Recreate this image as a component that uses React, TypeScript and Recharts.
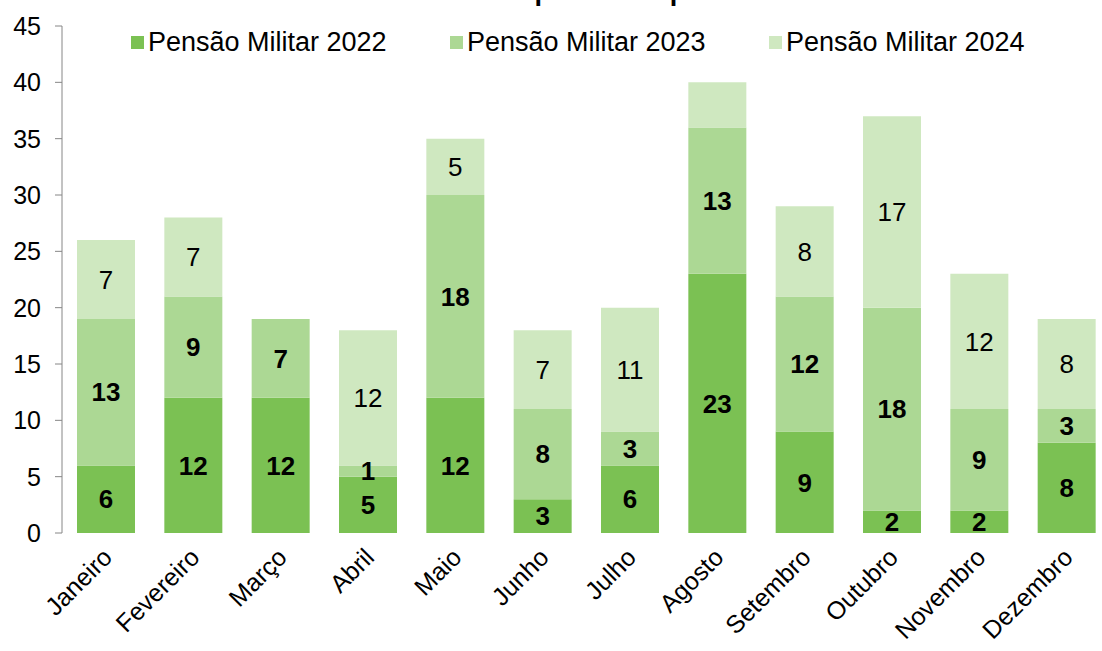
import { Bar, BarChart, LabelList, XAxis, YAxis } from "recharts";

const MONTHS = [
  "Janeiro",
  "Fevereiro",
  "Março",
  "Abril",
  "Maio",
  "Junho",
  "Julho",
  "Agosto",
  "Setembro",
  "Outubro",
  "Novembro",
  "Dezembro",
];
const PM_2022 = [6, 12, 12, 5, 12, 3, 6, 23, 9, 2, 2, 8];
const PM_2023 = [13, 9, 7, 1, 18, 8, 3, 13, 12, 18, 9, 3];
const PM_2024 = [7, 7, 0, 12, 5, 7, 11, 4, 8, 17, 12, 8];
// the reference leaves this segment unlabelled
const NO_LABEL_2024 = ["Agosto"];

const Y_TICKS = [0, 5, 10, 15, 20, 25, 30, 35, 40, 45];
const BOUNDARY_TICKS = [0, 1, 2, 3, 4, 5, 6, 7, 8, 9, 10, 11, 12];

const SERIES = [
  { key: "pm2022", label: "lbl2022", name: "Pensão Militar 2022", color: "#7bc153", bold: true },
  { key: "pm2023", label: "lbl2023", name: "Pensão Militar 2023", color: "#acd894", bold: true },
  { key: "pm2024", label: "lbl2024", name: "Pensão Militar 2024", color: "#cfe8c0", bold: false },
];

const data = MONTHS.map((m, i) => ({
  month: m,
  pm2022: PM_2022[i],
  pm2023: PM_2023[i],
  pm2024: PM_2024[i],
  lbl2022: PM_2022[i] || "",
  lbl2023: PM_2023[i] || "",
  lbl2024: NO_LABEL_2024.includes(m) ? "" : PM_2024[i] || "",
}));

const FONT = "'Liberation Sans', Arial, sans-serif";
const AXIS = "#868686";

function MonthTick({ x, y, payload }: any) {
  const tx = x + 8;
  const ty = y + 18;
  return (
    <text
      x={tx}
      y={ty}
      transform={`rotate(-45, ${tx}, ${ty})`}
      textAnchor="end"
      fontSize={25}
      fontFamily={FONT}
      fill="#000"
    >
      {payload.value}
    </text>
  );
}

function LegendBox() {
  return (
    <div
      style={{
        position: "absolute",
        top: 27,
        left: 131,
        display: "flex",
        fontFamily: FONT,
        fontSize: 27,
        lineHeight: "30px",
        color: "#000",
        whiteSpace: "nowrap",
      }}
    >
      {SERIES.map((s) => (
        <div key={s.key} style={{ display: "flex", alignItems: "center", width: 319 }}>
          <span
            style={{
              display: "inline-block",
              width: 13,
              height: 13,
              background: s.color,
              marginRight: 4,
            }}
          />
          <span>{s.name}</span>
        </div>
      ))}
    </div>
  );
}

export default function App() {
  return (
    <div
      style={{
        position: "absolute",
        left: 0,
        top: 0,
        width: 1102,
        height: 651,
        overflow: "hidden",
        background: "#fff",
      }}
    >
      <div
        style={{
          position: "absolute",
          left: 212,
          top: -22,
          fontFamily: FONT,
          fontSize: 27,
          fontWeight: "bold",
          lineHeight: 1,
          whiteSpace: "nowrap",
        }}
      >
        Gráfico 8 – Benefícios implantados por Pensão Militar
      </div>
      <BarChart
        width={1112}
        height={651}
        data={data}
        margin={{ top: 26, right: 2, bottom: 0, left: 2 }}
        barSize={58}
      >
        <XAxis
          xAxisId="grid"
          type="number"
          domain={[0, 12]}
          ticks={BOUNDARY_TICKS}
          height={0}
          stroke={AXIS}
          tickSize={7}
          tick={() => <g />}
        />
        <XAxis
          dataKey="month"
          height={118}
          interval={0}
          axisLine={false}
          tickLine={false}
          tick={<MonthTick />}
        />
        <YAxis
          domain={[0, 45]}
          ticks={Y_TICKS}
          width={60}
          stroke={AXIS}
          tickSize={7}
          tick={{ fill: "#000", fontSize: 25, fontFamily: FONT }}
          tickMargin={14}
        />
        {SERIES.map((s) => (
          <Bar
            key={s.key}
            dataKey={s.key}
            name={s.name}
            stackId="a"
            fill={s.color}
            isAnimationActive={false}
          >
            <LabelList
              dataKey={s.label}
              position="center"
              fill="#000"
              fontSize={26}
              fontFamily={FONT}
              fontWeight={s.bold ? "bold" : "normal"}
            />
          </Bar>
        ))}
      </BarChart>
      <LegendBox />
    </div>
  );
}
